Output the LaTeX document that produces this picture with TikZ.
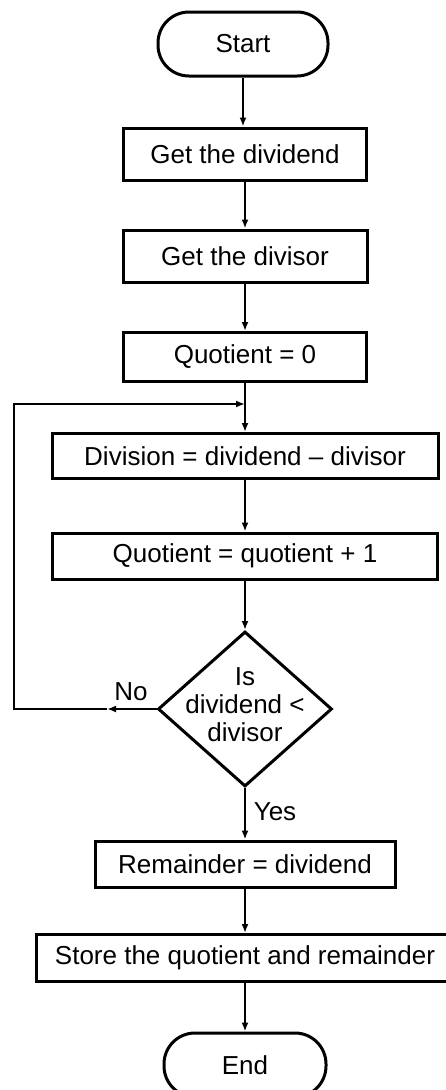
\documentclass[tikz,border=0pt]{standalone}
\usepackage{fontspec}
\setmainfont{Liberation Sans}
\usetikzlibrary{arrows.meta,shapes.geometric}
\begin{document}
\begin{tikzpicture}[x=1pt,y=-1pt,
  txt/.style={font=\fontsize{26}{28}\selectfont},
  box/.style={draw,line width=3pt,inner sep=0pt,txt},
  term/.style={box,rounded corners=31pt},
  conn/.style={line width=2pt,-{Latex[length=9pt,width=7pt]}},
  lbl/.style={txt,inner sep=0pt}]
\useasboundingbox (0,0) rectangle (445,1090);
\node[term,minimum width=170pt,minimum height=64pt] (start) at (243,44) {Start};
\node[box,minimum width=243pt,minimum height=52pt] (gdd) at (245,154) {Get the dividend};
\node[box,minimum width=244pt,minimum height=52pt] (gds) at (245,256) {Get the divisor};
\node[box,minimum width=243pt,minimum height=49pt] (q0) at (245,357) {Quotient = 0};
\node[box,minimum width=386pt,minimum height=45pt] (div) at (245,456) {Division = dividend -- divisor};
\node[box,minimum width=385pt,minimum height=46pt] (qp) at (245,556) {Quotient = quotient + 1};
\node[draw,diamond,line width=3pt,minimum width=174pt,minimum height=155pt,inner sep=0pt] (dec) at (245,709) {};
\node[lbl,align=center] (dtext) at (245,705) {Is\\dividend <\\divisor};
\node[box,minimum width=300pt,minimum height=46pt] (rem) at (245,864) {Remainder = dividend};
\node[box,minimum width=418pt,minimum height=47pt] (store) at (245,958) {Store the quotient and remainder};
\node[term,minimum width=162pt,minimum height=64pt] (end) at (245,1065) {End};
\node[lbl] (no) at (131,692) {No};
\node[lbl] (yes) at (275,812) {Yes};
\coordinate (noarr) at (107,709);
\coordinate (loopbl) at (14,709);
\coordinate (join) at (245,404);
\draw[conn] (start) -- (start |- gdd.north);
\draw[conn] (gdd) -- (gds);
\draw[conn] (gds) -- (q0);
\draw[conn] (q0) -- (div);
\draw[conn] (div) -- (qp);
\draw[conn] (qp) -- (dec);
\draw[conn] (dec.west) -- (noarr);
\draw[conn] (noarr) -- (loopbl) |- (join);
\draw[conn] (dec) -- (rem);
\draw[conn] (rem) -- (store);
\draw[conn] (store) -- (end);
\end{tikzpicture}
\end{document}
